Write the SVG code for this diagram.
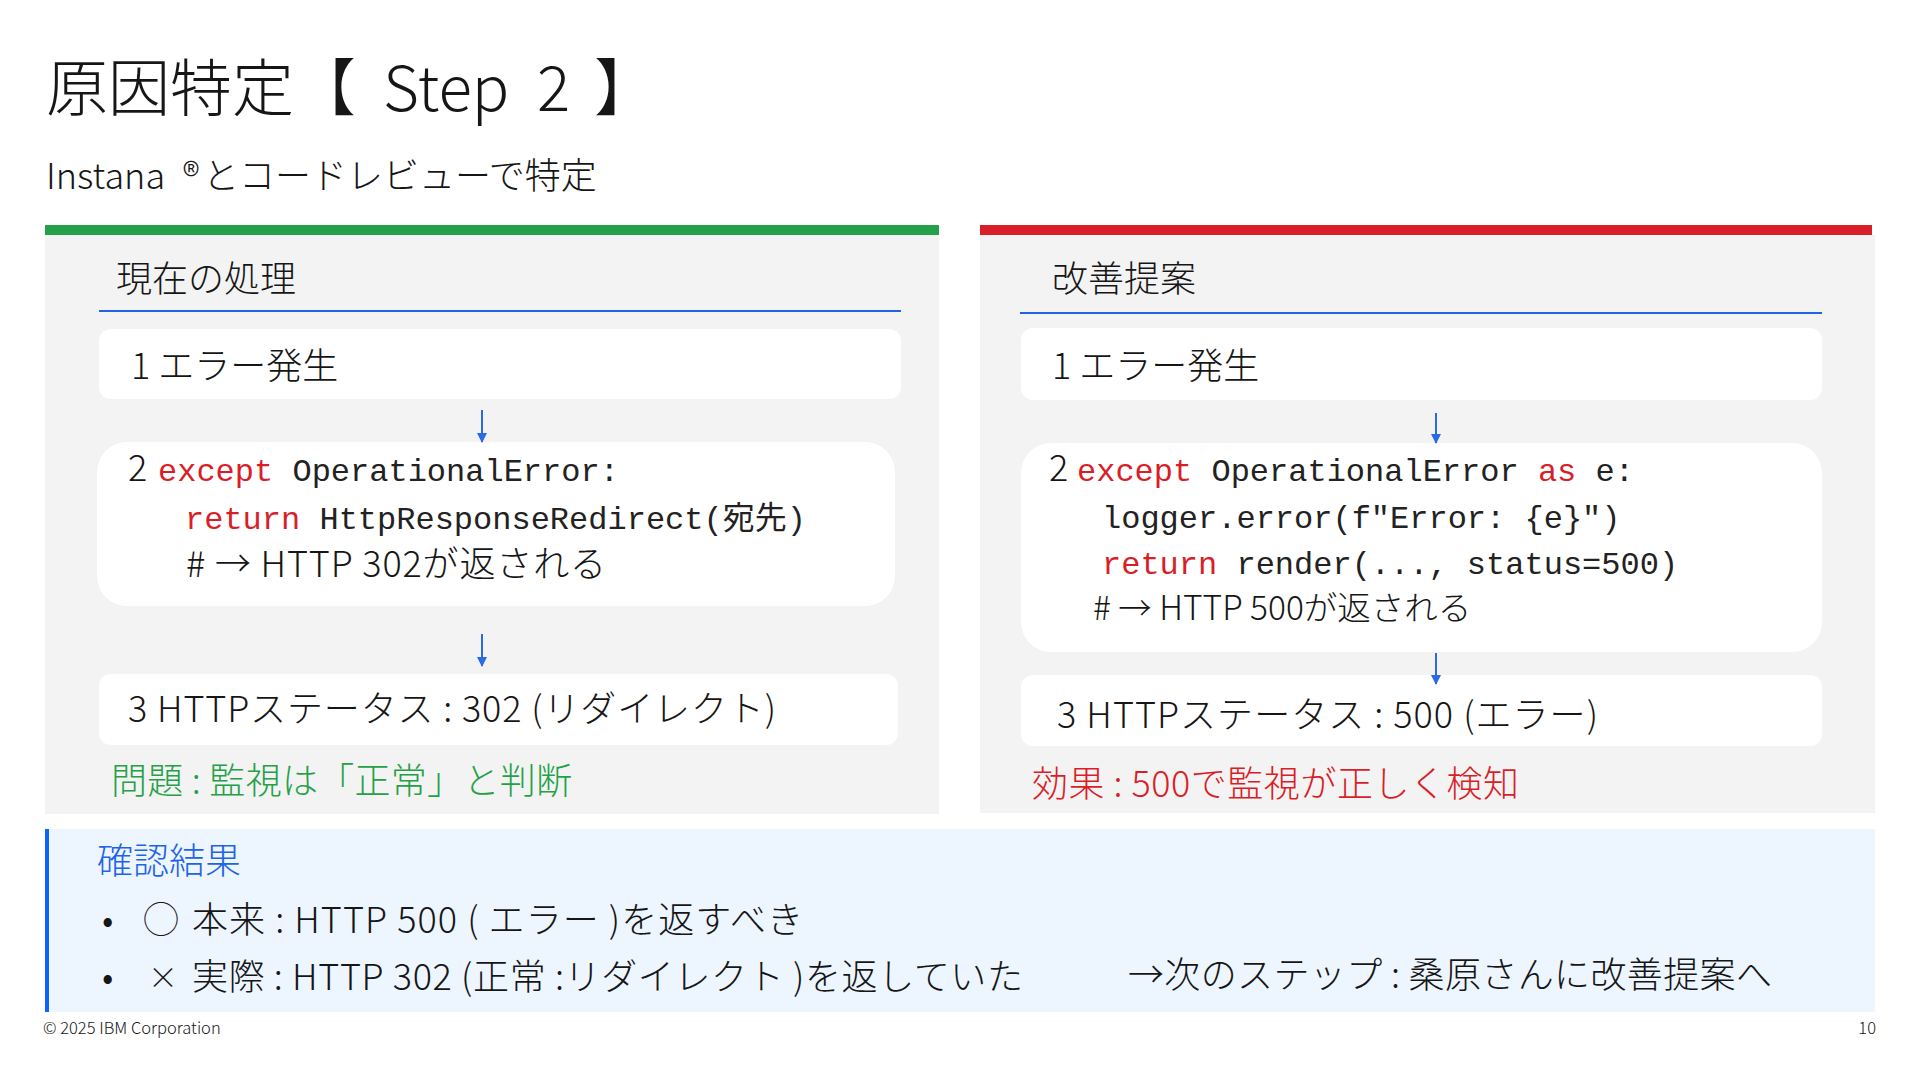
<svg xmlns="http://www.w3.org/2000/svg" width="1920" height="1080" viewBox="0 0 1920 1080">
<defs>
<style>
.sans{font-family:"Noto Sans CJK JP","Noto Sans",sans-serif;font-weight:300;fill:#161616}
.mono{font-family:"Liberation Mono","DejaVu Sans Mono","Noto Sans CJK JP",monospace;font-size:32px;fill:#222222}
.kw{fill:#da1e28}
.body{font-size:36px}
.panel{fill:#f3f3f3}
.box{fill:#ffffff}
.rule{stroke:#1f63e6;stroke-width:2}
.conn{stroke:#2a6ae6;stroke-width:2;fill:none;marker-end:url(#ah)}
</style>
<marker id="ah" viewBox="0 0 10 10" refX="9" refY="5" markerWidth="5" markerHeight="5" orient="auto" markerUnits="strokeWidth">
<path d="M0,0 L10,5 L0,10 Z" fill="#2a6ae6"/>
</marker>
</defs>
<rect width="1920" height="1080" fill="#ffffff"/>

<g id="title">
<text class="sans" x="46" y="111" font-size="62">原因特定【<tspan x="383">Step</tspan><tspan x="537">2</tspan><tspan x="594">】</tspan></text>
<text class="sans body" x="46" y="189">Instana<tspan x="183">®</tspan><tspan x="203">とコードレビューで特定</tspan></text>
</g>

<g id="panel-current">
<rect class="panel" x="45" y="235" width="894" height="579"/>
<rect x="45" y="225" width="894" height="10" fill="#24a148"/>
<text class="sans body" x="116" y="292">現在の処理</text>
<line class="rule" x1="99" y1="311" x2="901" y2="311"/>
</g>

<g id="cur-step1">
<rect class="box" x="99" y="329" width="802" height="70" rx="12"/>
<text class="sans body" x="131" y="379">1 エラー発生</text>
</g>

<g id="cur-step2">
<rect class="box" x="97" y="442" width="798" height="164" rx="30"/>
<text class="sans body" x="128" y="481">2</text>
<text class="mono" x="158" y="481"><tspan class="kw">except</tspan> OperationalError:</text>
<text class="mono" x="185" y="529"><tspan class="kw">return</tspan> HttpResponseRedirect(宛先)</text>
<text class="sans body" x="186" y="577" textLength="420" lengthAdjust="spacing"># → HTTP 302が返される</text>
</g>

<g id="cur-step3">
<rect class="box" x="99" y="674" width="799" height="71" rx="12"/>
<text class="sans body" x="128" y="722" textLength="648" lengthAdjust="spacing">3 HTTPステータス : 302 (リダイレクト)</text>
</g>

<g id="cur-problem">
<text class="sans body" x="111" y="794" style="fill:#24a148" textLength="461" lengthAdjust="spacing">問題 : 監視は「正常」と判断</text>
</g>

<g id="panel-proposal">
<rect class="panel" x="980" y="235" width="895" height="578"/>
<rect x="980" y="225" width="892" height="10" fill="#da1e28"/>
<text class="sans body" x="1052" y="292">改善提案</text>
<line class="rule" x1="1020" y1="313" x2="1822" y2="313"/>
</g>

<g id="prop-step1">
<rect class="box" x="1021" y="328" width="801" height="72" rx="12"/>
<text class="sans body" x="1052" y="379">1 エラー発生</text>
</g>

<g id="prop-step2">
<rect class="box" x="1021" y="443" width="801" height="209" rx="30"/>
<text class="sans body" x="1049" y="481">2</text>
<text class="mono" x="1077" y="481"><tspan class="kw">except</tspan> OperationalError <tspan class="kw">as</tspan> e:</text>
<text class="mono" x="1102" y="528">logger.error(f"Error: {e}")</text>
<text class="mono" x="1102" y="574"><tspan class="kw">return</tspan> render(..., status=500)</text>
<text class="sans" x="1093" y="620" font-size="33.5"># → HTTP 500が返される</text>
</g>

<g id="prop-step3">
<rect class="box" x="1021" y="675" width="801" height="71" rx="12"/>
<text class="sans body" x="1057" y="728" textLength="541" lengthAdjust="spacing">3 HTTPステータス : 500 (エラー)</text>
</g>

<g id="prop-effect">
<text class="sans body" x="1032" y="797" style="fill:#da1e28" textLength="487" lengthAdjust="spacing">効果 : 500で監視が正しく検知</text>
</g>

<g id="result">
<rect x="45" y="829" width="1830" height="183" fill="#edf5ff"/>
<rect x="45" y="829" width="4" height="183" fill="#0f62fe"/>
<text class="sans body" x="97" y="874" style="fill:#1f63e6">確認結果</text>
<text class="sans body" x="102" y="933">•</text>
<text class="sans body" x="143" y="933">◯</text>
<text class="sans body" x="192" y="933" textLength="611" lengthAdjust="spacing">本来 : HTTP 500 ( エラー )を返すべき</text>
<text class="sans body" x="102" y="990">•</text>
<text class="sans" x="148" y="988" font-size="30">×</text>
<text class="sans body" x="192" y="990" textLength="831" lengthAdjust="spacing">実際 : HTTP 302 (正常 :リダイレクト )を返していた</text>
<text class="sans body" x="1128" y="988" textLength="644" lengthAdjust="spacing">→次のステップ : 桑原さんに改善提案へ</text>
</g>

<g id="connectors">
<line class="conn" x1="482" y1="410" x2="482" y2="442"/>
<line class="conn" x1="482" y1="634" x2="482" y2="666"/>
<line class="conn" x1="1436" y1="413" x2="1436" y2="443"/>
<line class="conn" x1="1436" y1="653" x2="1436" y2="684"/>
</g>

<g id="footer">
<text class="sans" x="43" y="1034" font-size="16.5">© 2025 IBM Corporation</text>
<text class="sans" x="1876" y="1034" font-size="16.5" text-anchor="end">10</text>
</g>
</svg>
